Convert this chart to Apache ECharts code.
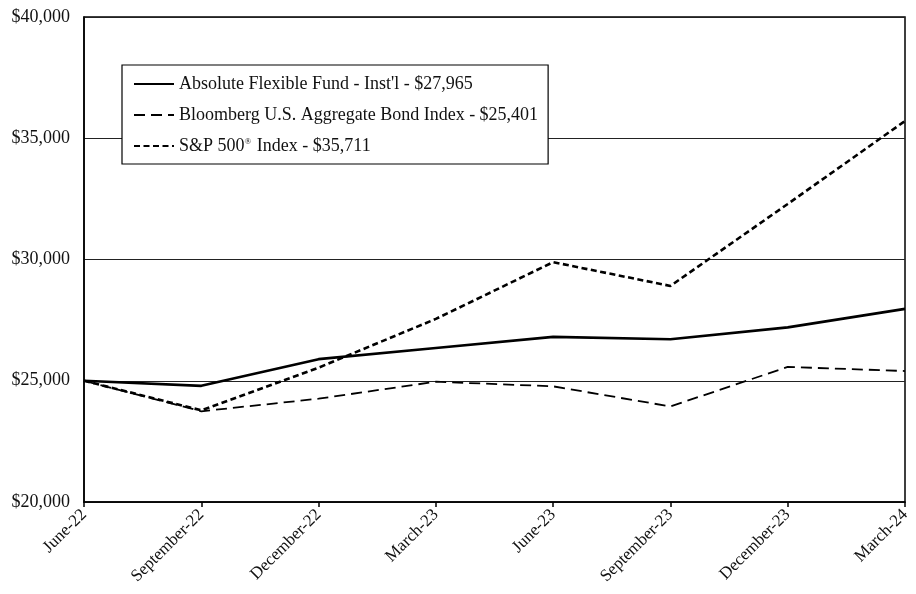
<!DOCTYPE html>
<html>
<head>
<meta charset="utf-8">
<script src="https://cdn.jsdelivr.net/npm/echarts@6/dist/echarts.min.js"></script>
<style>
  html, body { margin: 0; padding: 0; background: #fff; }
  #chart { width: 916px; height: 594px; }
</style>
</head>
<body>
<div id="chart"></div>
<script>
// Growth of a $25,000 investment, quarter-end values
const quarters = ['June-22', 'September-22', 'December-22', 'March-23', 'June-23', 'September-23', 'December-23', 'March-24'];
const fundValues = [25000, 24790, 25890, 26350, 26810, 26710, 27200, 27965];
const bondValues = [25000, 23740, 24260, 24960, 24770, 23940, 25570, 25401];
const spxValues  = [25000, 23780, 25540, 27550, 29890, 28910, 32290, 35711];
const seriesNames = [
  "Absolute Flexible Fund - Inst'l - $27,965",
  'Bloomberg U.S. Aggregate Bond Index - $25,401',
  'S&P 500\u00AE Index - $35,711'
];
const yTicks = { min: 20000, max: 40000, step: 5000 };

const FONT = '"Liberation Serif", "DejaVu Serif", serif';

const chart = echarts.init(document.getElementById('chart'), null, { renderer: 'canvas' });

function money(v) {
  return '$' + v.toString().replace(/\B(?=(\d{3})+(?!\d))/g, ',');
}

// Render the registered-trademark sign as a small raised glyph
function legendLabel(name) {
  const parts = name.split('\u00AE');
  if (parts.length < 2) return '{t|' + name + '}';
  return '{t|' + parts[0] + '}{sup|\u00AE}{t|' + parts[1] + '}';
}

chart.setOption({
  animation: false,
  backgroundColor: '#ffffff',
  grid: {
    left: 84, right: 11, top: 17, bottom: 92,
    show: true, borderColor: '#000', borderWidth: 1.5
  },
  legend: {
    orient: 'vertical',
    left: 122, top: 65,
    padding: [10, 10, 9, 11],
    backgroundColor: '#fff',
    borderColor: '#000', borderWidth: 1.2,
    itemWidth: 40, itemHeight: 16, itemGap: 13,
    itemStyle: { color: 'rgba(0,0,0,0)', borderWidth: 0, opacity: 0 },
    formatter: legendLabel,
    textStyle: {
      fontFamily: FONT, fontSize: 18, color: '#111',
      rich: {
        t: { fontFamily: FONT, fontSize: 18, color: '#111' },
        sup: { fontFamily: FONT, fontSize: 9, color: '#111', verticalAlign: 'top', padding: [0, 1, 7, 0] }
      }
    },
    data: seriesNames
  },
  xAxis: {
    type: 'category',
    data: quarters,
    boundaryGap: false,
    axisLine: { lineStyle: { color: '#000', width: 1.5 } },
    axisTick: { show: true, alignWithLabel: true, length: 5, lineStyle: { color: '#000', width: 1.5 } },
    axisLabel: { rotate: 45, margin: 10, fontFamily: FONT, fontSize: 17, color: '#111', interval: 0 },
    splitLine: { show: false }
  },
  yAxis: {
    type: 'value',
    min: yTicks.min, max: yTicks.max, interval: yTicks.step,
    axisLine: { show: true, lineStyle: { color: '#000', width: 1.5 } },
    axisTick: { show: false },
    axisLabel: { margin: 14, fontFamily: FONT, fontSize: 18, color: '#111', formatter: money },
    splitLine: { show: true, lineStyle: { color: '#222', width: 1.2 } }
  },
  series: [
    {
      name: seriesNames[0], type: 'line', data: fundValues,
      symbol: 'none', z: 4,
      lineStyle: { color: '#000', width: 2.6, type: 'solid' },
      itemStyle: { color: '#000' }
    },
    {
      name: seriesNames[1], type: 'line', data: bondValues,
      symbol: 'none', z: 3,
      lineStyle: { color: '#000', width: 1.8, type: [11, 6] },
      itemStyle: { color: '#000' }
    },
    {
      name: seriesNames[2], type: 'line', data: spxValues,
      symbol: 'none', z: 3,
      lineStyle: { color: '#000', width: 2.6, type: [6, 3.5] },
      itemStyle: { color: '#000' }
    }
  ]
});
</script>
</body>
</html>
